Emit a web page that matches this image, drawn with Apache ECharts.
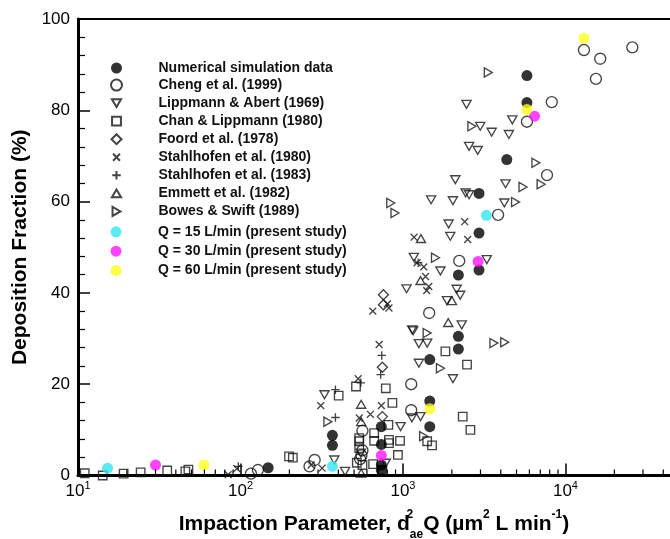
<!DOCTYPE html>
<html>
<head>
<meta charset="utf-8">
<script src="https://cdn.jsdelivr.net/npm/echarts@6/dist/echarts.min.js"></script>
<style>
  html, body { margin: 0; padding: 0; background: #fff; }
  #chart { width: 670px; height: 539px; }
</style>
</head>
<body>
<div id="chart"></div>
<script>
// Deposition fraction (%) against impaction parameter d_ae^2 Q (um^2 L/min)
const numerical = [[148,1.7],[368,8.8],[368,6.6],[736,10.7],[736,6.8],[736,2.3],[736,1.2],[1462,16.3],[1462,10.7],[1462,25.4],[2193,30.5],[2193,27.7],[2193,43.9],[2938,45.0],[2938,53.1],[2938,61.8],[4355,69.2],[5794,81.7],[5794,87.6]];
const cheng1999 = [[116,0.4],[128,1.2],[266,2.0],[286,3.4],[563,9.8],[563,5.5],[555,4.4],[545,3.6],[1124,20.0],[1124,14.3],[1450,35.6],[2220,47.0],[3850,57.1],[5794,77.5],[7700,65.8],[8240,81.8],[13000,93.2],[16370,91.3],[15400,86.9],[25800,93.8]];
const lippmannAbert1969 = [[329,17.7],[378,3.4],[440,0.9],[551,4.9],[784,2.7],[967,10.7],[1135,12.6],[1282,12.9],[1140,31.9],[1253,28.9],[1409,29.0],[1253,24.6],[2030,21.2],[2300,33.0],[1052,40.9],[2140,40.8],[1866,38.3],[2250,39.5],[1700,44.8],[1167,47.8],[3280,47.3],[1955,52.4],[1910,55.1],[1490,60.4],[2030,60.2],[2100,64.8],[2430,61.9],[2553,61.5],[4205,59.7],[4280,63.9],[2553,72.1],[2885,71.2],[2988,76.5],[3515,75.2],[4487,74.7],[4710,77.9],[2460,81.3],[1156,31.7]];
const chanLippmann1980 = [[11.0,0.5],[14.2,0],[19.1,0.4],[24.3,0.7],[35.4,1.1],[45.8,0.9],[47.8,1.3],[199,4.2],[210,3.9],[402,17.5],[514,19.5],[784,19.1],[861,15.9],[813,11.1],[665,9.3],[665,7.6],[820,7.8],[820,7.1],[959,7.6],[931,4.5],[655,2.5],[747,1.2],[538,8.2],[538,7.5],[538,6.0],[563,2.3],[1409,7.5],[1510,6.6],[1824,27.2],[2478,24.3],[2333,12.9],[2600,10.0],[520,2.8]];
const foord1978 = [[758,39.6],[758,37.4],[747,23.7],[747,12.9]];
const stahlhofen1980 = [[84,0.2],[95,1.5],[272,2.3],[318,1.6],[312,15.3],[530,21.2],[538,12.6],[630,13.4],[713,28.7],[736,15.3],[652,36.0],[802,37.6],[820,36.7],[1170,52.2],[1222,46.6],[1343,45.7],[1377,43.6],[1442,41.4],[1400,40.5],[2400,55.6],[2500,51.7]];
const stahlhofen1983 = [[97,2.0],[384,18.8],[384,12.7],[740,26.3],[729,22.1],[550,20.3],[1240,46.6]];
const emmett1982 = [[553,15.6],[553,11.8],[553,0.5],[1290,51.9],[1282,42.7],[1900,33.5],[2000,38.3]];
const bowesSwift1989 = [[345,11.8],[1340,8.6],[1409,31.2],[1700,23.5],[1585,47.7],[841,59.7],[893,57.5],[3350,88.3],[2655,76.5],[6580,68.5],[7080,63.8],[5480,63.2],[4930,59.9],[3630,29.0],[4230,29.2]];
const q15 = [[15.2,1.6],[368,2.0],[3260,57.0]];
const q30 = [[30.0,2.3],[736,4.4],[2900,46.9],[6460,78.7]];
const q60 = [[59.6,2.3],[1462,14.6],[5794,80.2],[13000,95.8]];

const seriesNames = [
  'Numerical simulation data', 'Cheng et al. (1999)', 'Lippmann & Abert (1969)',
  'Chan & Lippmann (1980)', 'Foord et al. (1978)', 'Stahlhofen et al. (1980)',
  'Stahlhofen et al. (1983)', 'Emmett et al. (1982)', 'Bowes & Swift (1989)'
];
const studyNames = ['Q = 15 L/min (present study)', 'Q = 30 L/min (present study)', 'Q = 60 L/min (present study)'];

// axis values
const xMin = 10, xMax = 44000;
const yTicks = [0, 20, 40, 60, 80, 100];
const xMinorTicks = [20,30,40,50,60,70,80,90,200,300,400,500,600,700,800,900,2000,3000,4000,5000,6000,7000,8000,9000,20000,30000,40000];

const FONT = '"Liberation Sans", Arial, sans-serif';
const INK = '#151515';

// open marker outlines; the lone move-to points pad the box so every glyph fits one square
const SYM = {
  down: 'path://M-1,-1.67M0,0L10,0L5,8.66ZM11,10.33',
  up: 'path://M-1,-1.67M5,0L10,8.66L0,8.66ZM11,10.33',
  right: 'path://M-1.67,-1M0,0L8.66,5L0,10ZM10.33,11',
  square: 'path://M-1.2,-1.2M0,0L10,0L10,10L0,10ZM11.2,11.2',
  diamond: 'path://M-0.5,-0.5M5,0L10,5L5,10L0,5ZM10.5,10.5',
  cross: 'path://M-3,-3M0,0L10,10M10,0L0,10M13,13',
  plus: 'path://M-1.5,-1.5M5,0L5,10M0,5L10,5M11.5,11.5'
};

function openSeries(name, data, symbol, size) {
  return {
    name, type: 'scatter', data, symbol, symbolSize: size, symbolKeepAspect: true,
    itemStyle: { color: 'none', borderColor: INK, borderWidth: 1.35 },
    emphasis: { disabled: true }, z: 3
  };
}
function filledSeries(name, data, color, z) {
  return {
    name, type: 'scatter', data, symbol: 'circle', symbolSize: 11,
    itemStyle: { color, borderWidth: 0 },
    emphasis: { disabled: true }, z
  };
}

const chart = echarts.init(document.getElementById('chart'), null, { renderer: 'canvas' });

const legendText = { fontFamily: FONT, fontSize: 14, fontWeight: 'bold', color: '#111', lineHeight: 14 };

chart.setOption({
  animation: false,
  backgroundColor: '#fff',
  textStyle: { fontFamily: FONT },
  grid: { left: 78, top: 19, right: 0, bottom: 63.5, containLabel: false, outerBoundsMode: 'none' },
  legend: [
    {
      data: seriesNames, orient: 'vertical', align: 'left', left: 108.5, top: 61, padding: 0,
      itemWidth: 74, itemHeight: 11, itemGap: 2.05, selectedMode: false,
      textStyle: legendText
    },
    {
      data: studyNames, orient: 'vertical', align: 'left', left: 110.5, top: 224.8, padding: 0,
      itemWidth: 74, itemHeight: 11, itemGap: 5.4, selectedMode: false,
      textStyle: legendText
    }
  ],
  xAxis: [
    {
      type: 'log', logBase: 10, min: xMin, max: xMax,
      position: 'bottom',
      axisLine: { show: true, onZero: false, lineStyle: { color: '#000', width: 3 } },
      axisTick: { show: true, inside: true, length: 12, lineStyle: { color: '#000', width: 1.5 } },
      minorTick: { show: false },
      splitLine: { show: false },
      axisLabel: {
        margin: 5, showMaxLabel: false,
        formatter: v => '{b|10}{s|' + Math.round(Math.log10(v)) + '}',
        rich: {
          b: { fontFamily: FONT, fontSize: 17, color: '#000', lineHeight: 22 },
          s: { fontFamily: FONT, fontSize: 11, color: '#000', lineHeight: 11, verticalAlign: 'top' }
        }
      },
      name: 'Impaction Parameter, d{sup0|2}{sub|ae}Q (\u00b5m{sup|2} L min{sup|-1})',
      nameLocation: 'middle', nameGap: 33,
      nameTextStyle: {
        fontFamily: FONT, fontSize: 21, fontWeight: 'bold', color: '#000', lineHeight: 32,
        rich: {
          sup0: { fontFamily: FONT, fontSize: 12, fontWeight: 'bold', color: '#000', lineHeight: 24, verticalAlign: 'top', width: 0 },
          sup: { fontFamily: FONT, fontSize: 12, fontWeight: 'bold', color: '#000', lineHeight: 24, verticalAlign: 'top' },
          sub: { fontFamily: FONT, fontSize: 12, fontWeight: 'bold', color: '#000', lineHeight: 13, verticalAlign: 'bottom' }
        }
      }
    },
    {
      type: 'value', position: 'top', min: 0, max: 1,
      axisLine: { show: true, onZero: false, lineStyle: { color: '#000', width: 2 } },
      axisTick: { show: false }, axisLabel: { show: false }, splitLine: { show: false }
    }
  ],
  yAxis: {
    type: 'value', min: yTicks[0], max: yTicks[yTicks.length - 1], interval: 20,
    axisLine: { show: true, onZero: false, lineStyle: { color: '#000', width: 3 } },
    axisTick: { show: true, inside: true, length: 12, lineStyle: { color: '#000', width: 1.5 } },
    minorTick: { show: true, splitNumber: 5, length: 7, lineStyle: { color: '#000', width: 1.2 } },
    splitLine: { show: false },
    axisLabel: { margin: 8, fontFamily: FONT, fontSize: 17, color: '#000' },
    name: 'Deposition Fraction (%)', nameLocation: 'middle', nameGap: 47,
    nameTextStyle: { fontFamily: FONT, fontSize: 21, fontWeight: 'bold', color: '#000' }
  },
  series: [
    {
      // minor ticks of the logarithmic axis (2..9 within each decade)
      type: 'custom', name: 'xMinorTicks', silent: true, clip: false, z: 10,
      data: xMinorTicks.map(v => [v, 0]),
      renderItem(params, api) {
        const p = api.coord([api.value(0), 0]);
        return {
          type: 'line',
          shape: { x1: p[0], y1: p[1], x2: p[0], y2: p[1] - 6 },
          style: { stroke: '#000', lineWidth: 1.2 }
        };
      }
    },
    filledSeries(seriesNames[0], numerical, '#000', 5),
    openSeries(seriesNames[1], cheng1999, 'circle', 11),
    openSeries(seriesNames[2], lippmannAbert1969, SYM.down, 11),
    openSeries(seriesNames[3], chanLippmann1980, SYM.square, 10.5),
    openSeries(seriesNames[4], foord1978, SYM.diamond, 11),
    openSeries(seriesNames[5], stahlhofen1980, SYM.cross, 11),
    openSeries(seriesNames[6], stahlhofen1983, SYM.plus, 11),
    openSeries(seriesNames[7], emmett1982, SYM.up, 11),
    openSeries(seriesNames[8], bowesSwift1989, SYM.right, 11),
    filledSeries(studyNames[0], q15, '#33e6f0', 6),
    filledSeries(studyNames[1], q30, '#ff14ff', 6),
    filledSeries(studyNames[2], q60, '#ffff1a', 7)
  ]
});
</script>
</body>
</html>
